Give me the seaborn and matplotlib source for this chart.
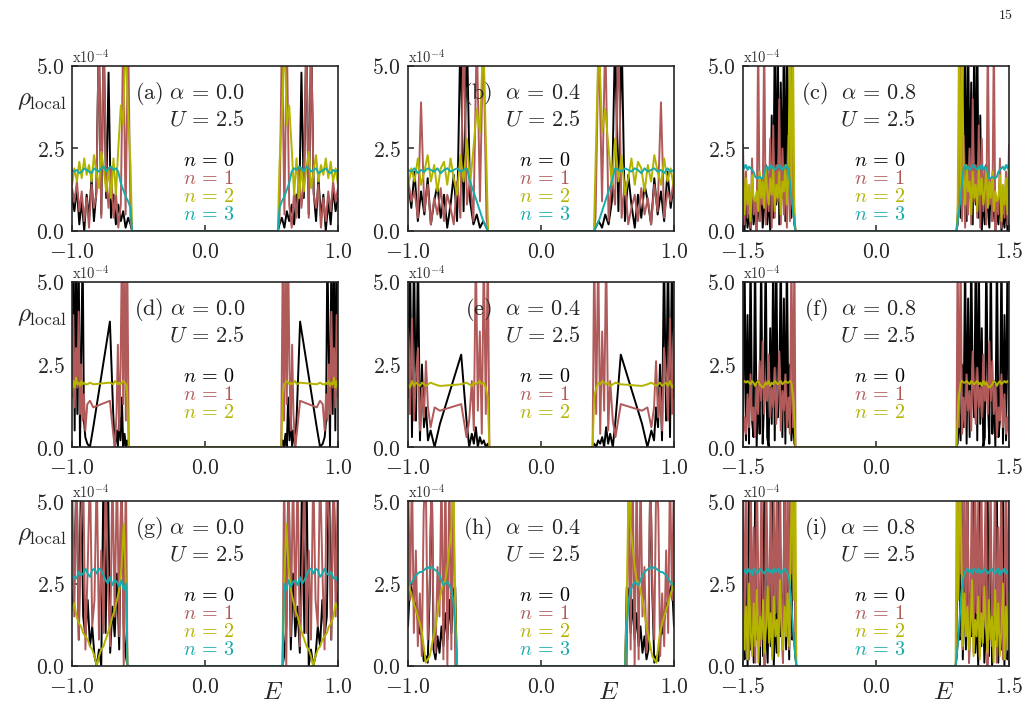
import numpy as np
import matplotlib
matplotlib.use("Agg")
import matplotlib.pyplot as plt
import seaborn as sns
from matplotlib.ticker import FuncFormatter

sns.set_style("ticks")
plt.rcParams['mathtext.fontset'] = 'cm'
plt.rcParams['font.family'] = ['DejaVu Serif']

# left band of each panel (spectrum is mirror symmetric about E=0), rho in units of 1e-4
# ---- panel (a) alpha=0.0
a_E = [-1.0, -0.982, -0.963, -0.945, -0.927, -0.908, -0.89, -0.872, -0.853, -0.835, -0.817, -0.798,
       -0.78, -0.762, -0.743, -0.725, -0.707, -0.688, -0.67, -0.652, -0.633, -0.615, -0.597, -0.578, -0.56]
a_n0 = [1.0, 0.6, 1.3, 0.2, 0.9, 0.0, 1.1, 0.4, 1.6, 0.3, 1.2, 6.0, 0.5, 6.0, 1.0, 4.8, 0.4, 1.1, 0.2, 0.8, 0.3, 0.6, 0.1, 0.4, 0.2]
a_n1 = [1.3, 0.9, 1.5, 0.6, 1.2, 0.3, 1.0, 0.1, 1.4, 0.7, 1.1, 6.0, 0.4, 6.0, 1.5, 0.7, 1.9, 0.4, 1.2, 0.1, 0.8, 6.0, 0.5, 6.0, 0.3]
a_n2 = [1.4, 1.9, 1.5, 2.1, 1.6, 2.2, 1.7, 2.0, 1.5, 2.3, 1.8, 1.3, 2.4, 1.9, 1.2, 1.9, 1.0, 2.2, 1.1, 2.5, 3.8, 3.2, 6.0, 3.5, 2.0]
a_n3 = [1.85, 1.8, 1.85, 1.75, 1.8, 1.9, 1.85, 1.8, 1.75, 1.9, 1.85, 1.8, 1.9, 1.95, 1.8, 1.9, 1.95, 1.85, 1.9, 1.8, 1.45, 1.25, 1.05, 0.9, 0.7]

# ---- panel (b) alpha=0.4
b_E = [-1.0, -0.975, -0.951, -0.926, -0.902, -0.877, -0.852, -0.828, -0.803, -0.779, -0.754, -0.729,
       -0.705, -0.68, -0.656, -0.631, -0.606, -0.582, -0.557, -0.533, -0.508, -0.483, -0.459, -0.434, -0.41]
b_n0 = [1.5, 0.7, 1.8, 0.3, 1.2, 0.5, 1.6, 0.2, 0.9, 1.4, 0.4, 1.1, 0.1, 0.8, 1.7, 0.3, 6.0, 0.6, 6.0, 0.9, 0.2, 0.5, 0.1, 0.3, 0.1]
b_n1 = [1.6, 0.9, 1.2, 0.4, 3.9, 0.6, 1.4, 0.2, 1.0, 0.5, 1.3, 0.3, 1.1, 0.7, 0.2, 1.5, 0.4, 6.0, 0.8, 1.6, 0.3, 6.0, 0.9, 6.0, 0.4]
b_n2 = [1.3, 1.9, 1.5, 2.2, 1.4, 1.8, 2.3, 1.5, 2.0, 1.2, 1.9, 2.1, 1.4, 2.2, 1.6, 1.1, 2.3, 1.5, 2.8, 1.4, 2.5, 3.7, 3.0, 6.0, 2.0]
b_n3 = [1.85, 1.8, 1.9, 1.75, 1.85, 1.8, 1.9, 1.85, 1.8, 1.9, 1.75, 1.85, 1.9, 1.8, 1.85, 1.9, 1.8, 1.85, 1.9, 1.5, 1.2, 0.9, 0.6, 0.3, 0.1]

# ---- panel (c) alpha=0.8
c_E = [-1.5, -1.483, -1.466, -1.449, -1.432, -1.415, -1.398, -1.381, -1.364, -1.346, -1.329, -1.312,
       -1.295, -1.278, -1.261, -1.244, -1.227, -1.21, -1.193, -1.176, -1.159, -1.142, -1.125, -1.108,
       -1.091, -1.074, -1.056, -1.039, -1.022, -1.005, -0.988, -0.971, -0.954, -0.937, -0.92]
c_n0 = [0.3, 0.0, 0.8, 0.1, 0.5, 0.0, 1.2, 0.2, 0.6, 0.0, 1.0, 0.3, 1.5, 0.1, 0.7, 2.0, 0.2, 1.1, 0.0, 3.5,
        0.4, 6.0, 0.8, 6.0, 0.2, 4.5, 1.0, 6.0, 0.3, 6.0, 1.2, 5.5, 0.4, 2.5, 0.2]
c_n1 = [2.6, 0.2, 1.8, 0.4, 1.2, 0.1, 2.2, 0.5, 1.0, 0.0, 6.0, 0.3, 1.6, 0.8, 6.0, 0.2, 1.9, 0.6, 2.8, 0.1,
        3.2, 0.4, 2.0, 0.9, 4.0, 0.2, 2.5, 0.5, 1.8, 0.1, 2.9, 0.3, 6.0, 1.0, 0.4]
c_n2 = [1.9, 0.5, 1.6, 0.8, 1.4, 0.3, 1.7, 1.0, 0.9, 1.2, 0.6, 1.8, 1.0, 1.5, 0.7, 1.9, 1.2, 0.8, 1.6, 1.1,
        1.9, 0.6, 1.4, 1.0, 1.8, 0.5, 1.5, 1.2, 2.0, 0.8, 1.7, 6.0, 1.0, 6.0, 0.5]
c_n3 = [2.05, 1.9, 2.0, 1.85, 1.95, 1.9, 1.85, 1.8, 1.65, 1.6, 1.6, 1.65, 1.6, 1.6, 1.75, 1.9, 1.95, 1.85,
        2.0, 1.9, 1.95, 1.85, 1.9, 1.95, 2.0, 1.9, 1.85, 1.95, 1.9, 2.0, 1.85, 1.5, 1.0, 0.6, 0.3]

# ---- panel (d) alpha=0.0
d_E = [-1.0, -0.99, -0.98, -0.97, -0.96, -0.95, -0.94, -0.93, -0.92, -0.91, -0.9, -0.885, -0.865,
       -0.84, -0.715, -0.69, -0.678, -0.665, -0.655, -0.645, -0.635, -0.625, -0.615, -0.605, -0.595, -0.585]
d_n0 = [2.0, 6.0, 0.5, 6.0, 1.0, 6.0, 0.0, 3.0, 6.0, 0.8, 0.3, 0.1, 0.0, 0.6, 3.8, 1.0, 0.0, 0.5, 0.0, 0.9,
        0.2, 1.5, 0.0, 0.4, 0.0, 0.2]
d_n1 = [1.5, 4.0, 1.2, 3.0, 1.8, 4.1, 1.0, 2.5, 0.8, 1.6, 0.5, 1.3, 1.4, 1.2, 1.4, 0.4, 0.0, 1.0, 3.1, 0.5,
        2.4, 6.0, 1.3, 6.0, 0.8, 6.0]
d_n2 = [1.7, 2.0, 1.8, 2.1, 1.9, 1.95, 1.85, 2.0, 1.9, 1.95, 1.9, 1.9, 1.95, 1.9, 1.95, 1.9, 2.0, 1.95, 1.9,
        1.95, 1.9, 1.95, 2.0, 1.95, 1.9, 1.6]

# ---- panel (e) alpha=0.4
e_E = [-1.0, -0.985, -0.97, -0.955, -0.94, -0.925, -0.91, -0.895, -0.88, -0.865, -0.85, -0.83, -0.8,
       -0.76, -0.6, -0.56, -0.54, -0.52, -0.505, -0.49, -0.475, -0.46, -0.445, -0.43, -0.415, -0.4]
e_n0 = [1.5, 6.0, 0.3, 6.0, 0.8, 6.0, 0.2, 2.5, 0.6, 1.2, 0.2, 0.5, 0.0, 0.7, 2.8, 0.8, 0.0, 0.4, 0.1, 0.6,
        0.0, 0.3, 0.1, 0.2, 0.0, 0.1]
e_n1 = [3.6, 1.0, 3.9, 0.8, 2.2, 3.0, 0.5, 1.8, 0.9, 2.6, 1.2, 0.6, 1.2, 1.1, 1.3, 0.3, 0.8, 2.0, 0.5, 6.0,
        1.1, 3.5, 0.4, 6.0, 1.0, 6.0]
e_n2 = [1.9, 1.8, 2.0, 1.85, 1.95, 1.9, 1.85, 1.95, 1.9, 1.85, 1.9, 1.95, 1.9, 1.85, 1.9, 1.95, 1.9, 1.85,
        1.95, 1.9, 1.95, 2.0, 1.9, 1.95, 1.8, 1.5]

# ---- panel (f) alpha=0.8
f_E = c_E
f_n0 = [0.5, 6.0, 0.2, 4.0, 0.1, 6.0, 0.8, 0.3, 6.0, 0.0, 2.0, 0.4, 6.0, 0.1, 1.5, 6.0, 0.3, 0.0, 3.6, 0.7,
        6.0, 0.2, 6.0, 0.9, 1.6, 6.0, 0.3, 4.5, 0.1, 6.0, 0.6, 2.5, 0.2, 1.0, 0.1]
f_n1 = [0.2, 0.9, 0.4, 1.6, 0.6, 2.2, 0.8, 1.2, 0.3, 1.9, 1.0, 2.6, 1.4, 3.2, 1.0, 2.0, 1.4, 2.8, 0.9, 1.8,
        1.2, 2.4, 0.7, 1.6, 2.9, 0.5, 1.7, 1.1, 2.2, 0.6, 1.5, 0.4, 6.0, 0.6, 6.0]
f_n2 = [1.95, 2.0, 1.95, 2.0, 1.95, 1.9, 2.0, 1.95, 1.85, 1.95, 2.0, 1.9, 1.85, 1.8, 1.85, 1.95, 1.9, 2.0,
        1.85, 1.95, 1.9, 2.0, 1.95, 1.9, 1.95, 2.0, 1.9, 1.95, 2.0, 1.95, 1.95, 2.0, 1.95, 1.6, 0.8]

# ---- panel (g) alpha=0.0
g_E = [-1.0, -0.983, -0.966, -0.949, -0.932, -0.916, -0.899, -0.882, -0.865, -0.848, -0.831, -0.814,
       -0.797, -0.78, -0.763, -0.747, -0.73, -0.713, -0.696, -0.679, -0.662, -0.645, -0.628, -0.611, -0.595]
g_n0 = [1.7, 2.6, 6.0, 0.8, 6.0, 1.5, 0.9, 2.0, 0.6, 1.2, 0.3, 0.0, 0.5, 0.0, 6.0, 1.0, 6.0, 0.4, 1.8, 0.9,
        2.8, 0.5, 6.0, 1.2, 0.3]
g_n1 = [6.0, 1.5, 6.0, 0.8, 4.5, 6.0, 0.5, 3.0, 6.0, 1.2, 2.0, 6.0, 0.8, 3.5, 1.0, 6.0, 2.5, 0.6, 6.0, 1.5,
        6.0, 0.9, 6.0, 0.0, 6.0]
g_n2 = [1.7, 1.9, 1.5, 1.3, 1.2, 1.0, 0.9, 0.8, 0.6, 0.5, 0.3, 0.0, 0.3, 0.5, 0.6, 0.8, 1.0, 1.2, 1.5, 1.7,
        2.0, 2.3, 3.0, 4.3, 2.5]
g_n3 = [2.55, 2.7, 2.65, 2.85, 2.75, 2.8, 2.95, 2.8, 2.7, 2.9, 2.95, 2.8, 2.95, 2.9, 2.75, 2.6, 2.5, 2.7,
        2.45, 2.6, 2.55, 2.4, 2.6, 2.3, 2.5]

# ---- panel (h) alpha=0.4
h_E = [-1.0, -0.985, -0.97, -0.956, -0.941, -0.926, -0.911, -0.896, -0.882, -0.867, -0.852, -0.837,
       -0.822, -0.808, -0.793, -0.778, -0.763, -0.748, -0.734, -0.719, -0.704, -0.689, -0.674, -0.66, -0.645]
h_n0 = [1.2, 2.5, 2.3, 2.0, 1.8, 1.4, 1.0, 0.9, 0.15, 0.3, 0.1, 2.2, 6.0, 0.5, 0.2, 0.9, 0.4, 1.2, 0.6, 1.6,
        0.8, 2.0, 1.0, 2.3, 2.4]
h_n1 = [6.0, 2.0, 6.0, 1.0, 3.5, 0.6, 2.2, 0.3, 4.7, 6.0, 0.8, 2.5, 6.0, 1.2, 0.4, 3.0, 1.5, 6.0, 0.2, 6.0,
        0.0, 6.0, 0.5, 6.0, 0.0]
h_n2 = [2.6, 2.3, 2.1, 1.9, 1.7, 1.5, 1.3, 1.05, 0.6, 0.1, 0.2, 0.3, 0.6, 0.9, 1.2, 1.6, 2.0, 2.3, 2.5, 2.6,
        3.0, 3.6, 4.2, 6.0, 2.0]
h_n3 = [2.45, 2.5, 2.55, 2.65, 2.75, 2.8, 2.85, 2.85, 2.9, 2.95, 3.0, 2.95, 3.0, 2.95, 2.9, 2.85, 2.75, 2.6,
        2.45, 2.5, 2.55, 2.45, 2.3, 2.0, 1.2]

# ---- panel (i) alpha=0.8
i_E = [-1.5, -1.483, -1.465, -1.448, -1.431, -1.413, -1.396, -1.379, -1.361, -1.344, -1.326, -1.309,
       -1.292, -1.274, -1.257, -1.24, -1.222, -1.205, -1.188, -1.17, -1.153, -1.135, -1.118, -1.101,
       -1.083, -1.066, -1.049, -1.031, -1.014, -0.997, -0.979, -0.962, -0.945, -0.927, -0.91]
i_n0 = [1.0, 0.2, 3.5, 0.0, 6.0, 0.5, 2.0, 0.1, 6.0, 0.8, 1.5, 0.0, 4.0, 0.3, 6.0, 1.2, 0.1, 2.8, 0.6, 6.0,
        0.0, 1.6, 0.4, 6.0, 0.9, 2.2, 0.1, 6.0, 0.5, 3.0, 0.2, 6.0, 0.8, 1.0, 0.3]
i_n1 = [6.0, 0.5, 6.0, 1.8, 0.2, 6.0, 0.9, 4.2, 0.1, 6.0, 2.5, 0.6, 6.0, 1.4, 0.0, 6.0, 3.0, 0.8, 6.0, 0.3,
        5.0, 1.6, 6.0, 0.4, 6.0, 2.0, 0.1, 6.0, 1.0, 6.0, 0.5, 6.0, 2.8, 6.0, 0.6]
i_n2 = [2.2, 0.5, 1.8, 0.2, 2.5, 1.0, 0.3, 1.9, 0.6, 2.3, 0.1, 1.5, 0.8, 2.0, 0.4, 1.2, 2.4, 0.7, 1.6, 0.2,
        2.1, 0.9, 1.4, 0.3, 2.6, 1.1, 0.5, 1.8, 0.9, 2.2, 0.6, 3.5, 6.0, 2.0, 6.0]
i_n3 = [2.85, 2.9, 2.8, 2.95, 2.85, 2.9, 2.75, 2.95, 2.9, 2.8, 2.85, 2.95, 2.9, 2.85, 2.8, 2.9, 2.95, 2.85,
        2.9, 2.8, 2.95, 2.85, 2.9, 2.95, 2.8, 2.9, 2.85, 2.95, 2.9, 2.8, 2.6, 2.2, 1.5, 0.8, 0.3]

labels = ["a", "b", "c", "d", "e", "f", "g", "h", "i"]
alphas = ["0.0", "0.4", "0.8"]
colors = ["black", "#b05a5a", "#b3b300", "#17abab"]

panels = [
    (a_E, [a_n0, a_n1, a_n2, a_n3]), (b_E, [b_n0, b_n1, b_n2, b_n3]), (c_E, [c_n0, c_n1, c_n2, c_n3]),
    (d_E, [d_n0, d_n1, d_n2]), (e_E, [e_n0, e_n1, e_n2]), (f_E, [f_n0, f_n1, f_n2]),
    (g_E, [g_n0, g_n1, g_n2, g_n3]), (h_E, [h_n0, h_n1, h_n2, h_n3]), (i_E, [i_n0, i_n1, i_n2, i_n3]),
]

fig = plt.figure(figsize=(10.29, 7.06), dpi=100)
lefts = [72 / 1029, 408 / 1029, 743 / 1029]
bottoms = [1 - 231 / 706, 1 - 447 / 706, 1 - 666 / 706]
w, h = 266 / 1029, 165 / 706
fmt = FuncFormatter(lambda v, p: r"$%.1f$" % v)

for k, (E, series) in enumerate(panels):
    row, col = divmod(k, 3)
    ax = fig.add_axes([lefts[col], bottoms[row], w, h])
    E = np.array(E)
    edge = E[-1] + 0.012
    x = np.concatenate([E, [edge, -edge], -E[::-1]])
    for n, vals in enumerate(series):
        v = np.array(vals)
        y = np.concatenate([v, [0, 0], v[::-1]])
        sns.lineplot(x=x, y=y, ax=ax, color=colors[n], lw=1.4, sort=False, estimator=None)
    xm = 1.5 if col == 2 else 1.0
    ax.set_xlim(-xm, xm)
    ax.set_ylim(0, 5)
    ax.set_xticks([-xm, 0, xm])
    ax.set_yticks([0, 2.5, 5])
    ax.xaxis.set_major_formatter(fmt)
    ax.yaxis.set_major_formatter(fmt)
    ax.tick_params(direction="in", length=4, width=1.1, labelsize=15.5, pad=5)
    ax.tick_params(axis="x", pad=7)
    for s in ax.spines.values():
        s.set_linewidth(1.2)
        s.set_visible(True)
    ax.set_xlabel("")
    ax.set_ylabel("")

    sp = r"\ " if col == 0 else r"\ \ "
    ax.text(0.65, 0.835, r"$\mathrm{(%s)}%s\alpha\,=\,%s$" % (labels[k], sp, alphas[col]),
            transform=ax.transAxes, ha="right", va="center", fontsize=16)
    ax.text(0.65, 0.675, r"$U\,=\,2.5$", transform=ax.transAxes, ha="right", va="center", fontsize=16)
    for n in range(len(series)):
        ax.text(0.515, 0.43 - 0.11 * n, r"$n\,=\,%d$" % n, transform=ax.transAxes,
                ha="center", va="center", fontsize=14.5, color=colors[n])
    ax.text(0.0, 1.0, r"$\mathrm{x}10^{-4}$", transform=ax.transAxes, ha="left", va="bottom",
            fontsize=10.5, color="#333333")
    if col == 0:
        ax.text(-0.115, 0.79, r"$\rho_{\mathrm{local}}$", transform=ax.transAxes, ha="center",
                va="center", fontsize=18)
    if row == 2:
        ax.text(0.755, -0.16, r"$E$", transform=ax.transAxes, ha="center", va="center", fontsize=18)

fig.text(0.977, 0.979, r"$15$", ha="center", va="center", fontsize=10)
fig.savefig("out.png", dpi=100)
